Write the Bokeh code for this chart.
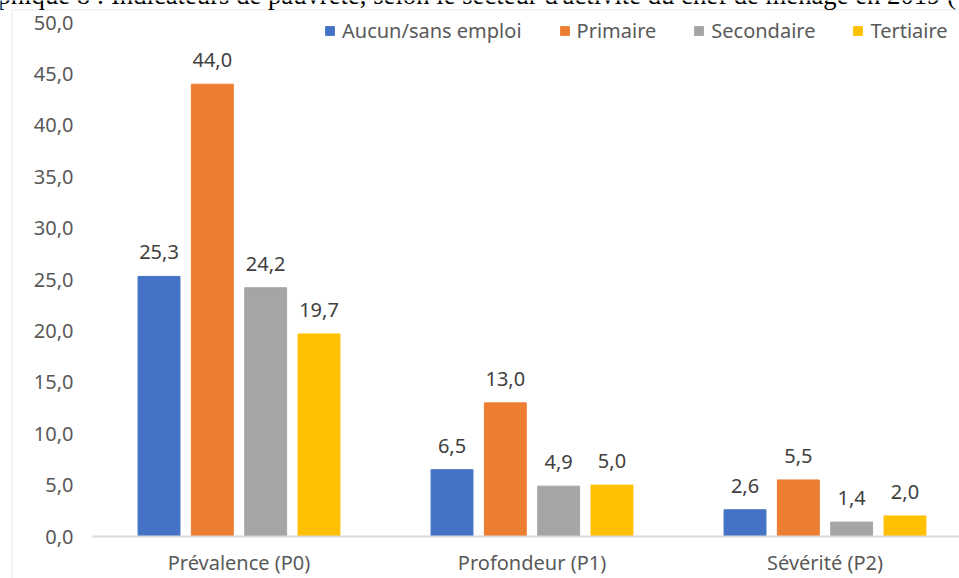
from bokeh.plotting import figure
from bokeh.models import (ColumnDataSource, Range1d, FixedTicker, CustomJSTickFormatter,
                          LabelSet, Label, Legend, LegendItem, BoxAnnotation, LinearAxis)
from bokeh.transform import dodge
from bokeh.core.properties import value
from bokeh.embed import file_html
from bokeh.resources import INLINE

title_text = "phique 8 : Indicateurs de pauvreté, selon le secteur d'activité du chef de ménage en 2019 ("
categories = ["Prévalence (P0)", "Profondeur (P1)", "Sévérité (P2)"]
series_names = ["Aucun/sans emploi", "Primaire", "Secondaire", "Tertiaire"]
aucun = [25.3, 6.5, 2.6]
primaire = [44.0, 13.0, 5.5]
secondaire = [24.2, 4.9, 1.4]
tertiaire = [19.7, 5.0, 2.0]
y_ticks = [0, 5, 10, 15, 20, 25, 30, 35, 40, 45, 50]

colors = ["#4472C4", "#ED7D31", "#A5A5A5", "#FFC000"]
series_values = [aucun, primaire, secondaire, tertiaire]
offsets = [-0.273, -0.091, 0.091, 0.273]

FONT = "Noto Sans"
W, H = 959, 578
# layout: plot origin (x=0, y=0) sits at pixel (92, 536); one category = 293 px, one unit = 10.28 px
X0_PX, Y0_PX, CAT_PX, UNIT_PX = 92, 536, 293, 10.28
x_start, x_end = -X0_PX / CAT_PX, (W - X0_PX) / CAT_PX
y_start, y_end = -(H - Y0_PX) / UNIT_PX, Y0_PX / UNIT_PX

p = figure(width=W, height=H, output_backend="svg", toolbar_location=None,
           x_range=Range1d(x_start, x_end), y_range=Range1d(y_start, y_end),
           x_axis_location=None, y_axis_location=None,
           min_border_left=0, min_border_right=0, min_border_top=0, min_border_bottom=0)
p.outline_line_color = None
p.grid.visible = False
p.background_fill_color = "white"
p.border_fill_color = "white"

# chart-area border: left and top edges (right/bottom run past the window)
border = BoxAnnotation(left=(11.5 - X0_PX) / CAT_PX, right=x_end + 1,
                       top=(Y0_PX - 9.5) / UNIT_PX, bottom=y_start - 5,
                       fill_alpha=0, line_color="#D9D9D9", line_width=2, level="underlay")
p.add_layout(border)

centers = [0.5, 1.5, 2.5]
renderers = []
for name, vals, col, off in zip(series_names, series_values, colors, offsets):
    src = ColumnDataSource(dict(cx=centers, v=vals,
                                lbl=[f"{x:.1f}".replace(".", ",") for x in vals]))
    r = p.vbar(x=dodge("cx", off, range=p.x_range), top="v", width=0.143, source=src,
               fill_color=col, line_color=col)
    renderers.append(r)
    labels = LabelSet(x=dodge("cx", off, range=p.x_range), y="v", text="lbl", source=src,
                      y_offset=24, text_align="center", text_baseline="middle",
                      text_font=value(FONT), text_font_size="20px", text_color="#404040")
    p.add_layout(labels)

# y axis (drawn at x = 0, inside the full-canvas frame)
yaxis = LinearAxis(fixed_location=0, ticker=FixedTicker(ticks=y_ticks),
                   formatter=CustomJSTickFormatter(code="return tick.toFixed(1).replace('.', ',');"),
                   axis_line_color=None, major_tick_line_color=None, minor_tick_line_color=None,
                   major_tick_out=0, major_tick_in=0, major_label_standoff=19,
                   major_label_text_font=FONT, major_label_text_font_size="20px",
                   major_label_text_color="#595959")
p.add_layout(yaxis, "left")

# x axis (drawn at y = 0)
xaxis = LinearAxis(fixed_location=0, ticker=FixedTicker(ticks=centers),
                   major_label_overrides={c: n for c, n in zip(centers, categories)},
                   bounds=(0, x_end),
                   axis_line_color="#D9D9D9", axis_line_width=2,
                   major_tick_line_color=None, minor_tick_line_color=None,
                   major_tick_out=0, major_tick_in=0, major_label_standoff=12,
                   major_label_text_font=FONT, major_label_text_font_size="20px",
                   major_label_text_color="#595959")
p.add_layout(xaxis, "below")

legend = Legend(items=[LegendItem(label=n, renderers=[r]) for n, r in zip(series_names, renderers)],
                orientation="horizontal", location=(324, H - 44),
                glyph_width=11, glyph_height=11, label_standoff=7, spacing=37,
                label_height=22, padding=0, margin=0, border_line_color=None,
                background_fill_alpha=0,
                label_text_font=FONT, label_text_font_size="20px", label_text_color="#595959")
p.add_layout(legend, "center")

# clipped document title above the chart (only its lower part shows, as in the source)
title = Label(x=-3, y=H + 6, x_units="screen", y_units="screen",
              text=title_text, text_font="Liberation Serif", text_font_size="26.7px",
              text_color="black", text_baseline="alphabetic", text_align="left")
p.add_layout(title)

open("out.html", "w").write(file_html(p, INLINE))
